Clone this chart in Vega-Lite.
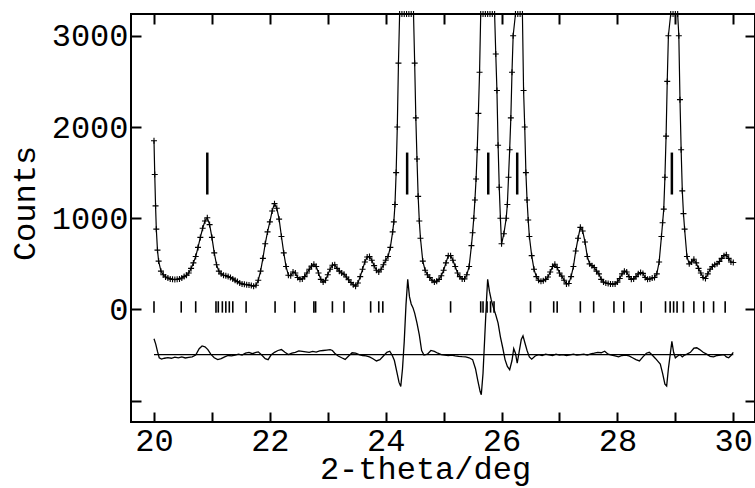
{
  "$schema": "https://vega.github.io/schema/vega-lite/v6.json",
  "autosize": {"type": "none"},
  "width": 624,
  "height": 408,
  "padding": {"left": 131, "top": 14, "right": 0, "bottom": 66},
  "background": "white",
  "view": {"stroke": "black", "strokeWidth": 2},
  "config": {"font": "Liberation Mono"},
  "datasets": {
    "obs": [
      {"t":20.00,"c":1850},{"t":20.013,"c":1480},{"t":20.027,"c":1135},{"t":20.04,"c":880},{"t":20.06,"c":650},{"t":20.08,"c":530},{"t":20.12,"c":420},{"t":20.16,"c":380},{"t":20.20,"c":355},{"t":20.24,"c":345},{"t":20.28,"c":335},{"t":20.32,"c":330},{"t":20.36,"c":328},
      {"t":20.40,"c":330},{"t":20.44,"c":335},{"t":20.48,"c":345},{"t":20.52,"c":360},{"t":20.56,"c":375},{"t":20.60,"c":400},{"t":20.64,"c":450},{"t":20.68,"c":510},{"t":20.72,"c":580},{"t":20.76,"c":680},
      {"t":20.80,"c":790},{"t":20.84,"c":890},{"t":20.88,"c":970},{"t":20.92,"c":1005},{"t":20.96,"c":930},{"t":21.00,"c":790},{"t":21.04,"c":620},{"t":21.08,"c":490},{"t":21.12,"c":420},{"t":21.16,"c":390},
      {"t":21.20,"c":375},{"t":21.24,"c":370},{"t":21.28,"c":360},{"t":21.32,"c":350},{"t":21.36,"c":335},{"t":21.40,"c":320},{"t":21.44,"c":305},{"t":21.48,"c":290},{"t":21.52,"c":280},{"t":21.56,"c":275},
      {"t":21.60,"c":272},{"t":21.64,"c":268},{"t":21.68,"c":262},{"t":21.72,"c":255},{"t":21.76,"c":265},{"t":21.80,"c":320},{"t":21.84,"c":420},{"t":21.88,"c":560},{"t":21.92,"c":720},{"t":21.96,"c":850},
      {"t":22.00,"c":960},{"t":22.04,"c":1080},{"t":22.08,"c":1160},{"t":22.12,"c":1110},{"t":22.16,"c":990},{"t":22.20,"c":800},{"t":22.24,"c":620},{"t":22.28,"c":470},{"t":22.32,"c":375},{"t":22.36,"c":370},
      {"t":22.40,"c":410},{"t":22.44,"c":400},{"t":22.48,"c":350},{"t":22.52,"c":330},{"t":22.56,"c":335},{"t":22.60,"c":360},{"t":22.64,"c":400},{"t":22.68,"c":440},{"t":22.72,"c":475},{"t":22.76,"c":495},
      {"t":22.80,"c":470},{"t":22.84,"c":400},{"t":22.88,"c":330},{"t":22.92,"c":300},{"t":22.96,"c":320},{"t":23.00,"c":380},{"t":23.04,"c":440},{"t":23.08,"c":485},{"t":23.12,"c":490},{"t":23.16,"c":450},
      {"t":23.20,"c":420},{"t":23.24,"c":400},{"t":23.28,"c":385},{"t":23.32,"c":355},{"t":23.36,"c":325},{"t":23.40,"c":295},{"t":23.44,"c":270},{"t":23.48,"c":255},{"t":23.52,"c":290},{"t":23.56,"c":360},
      {"t":23.60,"c":440},{"t":23.64,"c":520},{"t":23.68,"c":575},{"t":23.72,"c":580},{"t":23.76,"c":540},{"t":23.80,"c":480},{"t":23.84,"c":430},{"t":23.88,"c":410},{"t":23.92,"c":440},{"t":23.96,"c":490},
      {"t":24.00,"c":540},{"t":24.04,"c":580},{"t":24.08,"c":680},{"t":24.12,"c":850},{"t":24.14,"c":960},{"t":24.16,"c":1150},{"t":24.18,"c":1500},{"t":24.20,"c":2000},{"t":24.22,"c":2700},{"t":24.24,"c":3500},{"t":24.28,"c":6000},{"t":24.32,"c":9000},{"t":24.36,"c":10000},
      {"t":24.40,"c":8000},{"t":24.44,"c":5500},{"t":24.48,"c":3600},{"t":24.50,"c":2700},{"t":24.52,"c":2100},{"t":24.54,"c":1650},{"t":24.56,"c":1240},{"t":24.58,"c":970},{"t":24.60,"c":780},{"t":24.64,"c":530},{"t":24.68,"c":430},{"t":24.72,"c":380},{"t":24.76,"c":350},
      {"t":24.80,"c":320},{"t":24.84,"c":300},{"t":24.88,"c":310},{"t":24.92,"c":330},{"t":24.96,"c":370},{"t":25.00,"c":430},{"t":25.04,"c":510},{"t":25.08,"c":590},{"t":25.12,"c":590},{"t":25.16,"c":540},
      {"t":25.20,"c":470},{"t":25.24,"c":400},{"t":25.28,"c":360},{"t":25.32,"c":335},{"t":25.36,"c":335},{"t":25.40,"c":380},{"t":25.44,"c":470},{"t":25.48,"c":700},{"t":25.50,"c":840},{"t":25.52,"c":1000},{"t":25.54,"c":1200},{"t":25.56,"c":1430},
      {"t":25.58,"c":1750},{"t":25.60,"c":2150},{"t":25.62,"c":2600},{"t":25.64,"c":3400},{"t":25.68,"c":5000},{"t":25.72,"c":8000},{"t":25.76,"c":10000},{"t":25.80,"c":8000},{"t":25.84,"c":5000},{"t":25.88,"c":3300},{"t":25.90,"c":2800},{"t":25.92,"c":2400},{"t":25.94,"c":1800},{"t":25.96,"c":1340},{"t":25.98,"c":1000},
      {"t":26.00,"c":720},{"t":26.04,"c":830},{"t":26.08,"c":1000},{"t":26.10,"c":1150},{"t":26.12,"c":1450},{"t":26.14,"c":1750},{"t":26.16,"c":2100},{"t":26.18,"c":2600},{"t":26.20,"c":3000},{"t":26.24,"c":5000},{"t":26.28,"c":6500},{"t":26.32,"c":5000},{"t":26.36,"c":3300},
      {"t":26.38,"c":2400},{"t":26.40,"c":2000},{"t":26.42,"c":1500},{"t":26.44,"c":1200},{"t":26.46,"c":980},{"t":26.48,"c":800},{"t":26.52,"c":590},{"t":26.56,"c":440},{"t":26.60,"c":360},{"t":26.64,"c":320},{"t":26.68,"c":308},{"t":26.72,"c":315},{"t":26.76,"c":330},
      {"t":26.80,"c":355},{"t":26.84,"c":410},{"t":26.88,"c":470},{"t":26.92,"c":495},{"t":26.96,"c":460},{"t":27.00,"c":400},{"t":27.04,"c":365},{"t":27.08,"c":320},{"t":27.12,"c":280},{"t":27.16,"c":285},
      {"t":27.20,"c":360},{"t":27.24,"c":470},{"t":27.28,"c":640},{"t":27.32,"c":780},{"t":27.36,"c":900},{"t":27.40,"c":860},{"t":27.44,"c":740},{"t":27.48,"c":580},{"t":27.52,"c":500},{"t":27.56,"c":480},
      {"t":27.60,"c":460},{"t":27.64,"c":420},{"t":27.68,"c":390},{"t":27.72,"c":330},{"t":27.76,"c":300},{"t":27.80,"c":290},{"t":27.84,"c":285},{"t":27.88,"c":280},{"t":27.92,"c":278},{"t":27.96,"c":280},
      {"t":28.00,"c":300},{"t":28.04,"c":340},{"t":28.08,"c":390},{"t":28.12,"c":420},{"t":28.16,"c":410},{"t":28.20,"c":360},{"t":28.24,"c":330},{"t":28.28,"c":335},{"t":28.32,"c":360},{"t":28.36,"c":390},
      {"t":28.40,"c":405},{"t":28.44,"c":395},{"t":28.48,"c":350},{"t":28.52,"c":330},{"t":28.56,"c":335},{"t":28.60,"c":345},{"t":28.64,"c":350},{"t":28.68,"c":390},{"t":28.72,"c":520},{"t":28.76,"c":800},{"t":28.78,"c":950},
      {"t":28.80,"c":1100},{"t":28.82,"c":1450},{"t":28.84,"c":1900},{"t":28.86,"c":2500},{"t":28.88,"c":3000},{"t":28.92,"c":6000},{"t":28.96,"c":8000},{"t":29.00,"c":6500},{"t":29.04,"c":3800},{"t":29.06,"c":3000},{"t":29.08,"c":2300},{"t":29.10,"c":1750},{"t":29.12,"c":1300},{"t":29.14,"c":1050},{"t":29.16,"c":880},
      {"t":29.20,"c":580},{"t":29.24,"c":500},{"t":29.28,"c":520},{"t":29.32,"c":550},{"t":29.36,"c":510},{"t":29.40,"c":450},{"t":29.44,"c":400},{"t":29.48,"c":350},{"t":29.52,"c":340},{"t":29.56,"c":390},
      {"t":29.60,"c":440},{"t":29.64,"c":470},{"t":29.68,"c":490},{"t":29.72,"c":500},{"t":29.76,"c":525},{"t":29.80,"c":560},{"t":29.84,"c":590},{"t":29.88,"c":600},{"t":29.92,"c":560},{"t":29.96,"c":520},
      {"t":30.00,"c":515}
    ],
    "diff": [
      {"t":20.00,"d":-322},{"t":20.03,"d":-380},{"t":20.06,"d":-460},{"t":20.09,"d":-530},{"t":20.13,"d":-545},{"t":20.18,"d":-535},{"t":20.24,"d":-528},{"t":20.30,"d":-535},{"t":20.36,"d":-522},{"t":20.42,"d":-530},
      {"t":20.48,"d":-520},{"t":20.54,"d":-532},{"t":20.60,"d":-525},{"t":20.66,"d":-520},{"t":20.72,"d":-500},{"t":20.78,"d":-430},{"t":20.83,"d":-400},{"t":20.88,"d":-410},{"t":20.93,"d":-440},{"t":20.98,"d":-490},
      {"t":21.04,"d":-530},{"t":21.10,"d":-550},{"t":21.16,"d":-540},{"t":21.22,"d":-520},{"t":21.28,"d":-505},{"t":21.34,"d":-510},{"t":21.40,"d":-500},{"t":21.46,"d":-490},{"t":21.52,"d":-500},{"t":21.58,"d":-480},
      {"t":21.64,"d":-470},{"t":21.70,"d":-485},{"t":21.76,"d":-470},{"t":21.80,"d":-465},{"t":21.86,"d":-500},{"t":21.92,"d":-540},{"t":21.97,"d":-550},{"t":22.02,"d":-500},{"t":22.08,"d":-470},{"t":22.14,"d":-450},
      {"t":22.20,"d":-440},{"t":22.26,"d":-470},{"t":22.32,"d":-495},{"t":22.38,"d":-480},{"t":22.44,"d":-470},{"t":22.50,"d":-455},{"t":22.56,"d":-460},{"t":22.62,"d":-465},{"t":22.68,"d":-470},{"t":22.74,"d":-460},
      {"t":22.80,"d":-468},{"t":22.86,"d":-455},{"t":22.92,"d":-450},{"t":22.98,"d":-445},{"t":23.04,"d":-440},{"t":23.08,"d":-450},{"t":23.12,"d":-480},{"t":23.18,"d":-510},{"t":23.24,"d":-530},{"t":23.30,"d":-548},
      {"t":23.36,"d":-510},{"t":23.42,"d":-475},{"t":23.48,"d":-480},{"t":23.54,"d":-495},{"t":23.60,"d":-505},{"t":23.66,"d":-508},{"t":23.72,"d":-520},{"t":23.78,"d":-540},{"t":23.84,"d":-565},{"t":23.90,"d":-550},
      {"t":23.96,"d":-510},{"t":24.02,"d":-470},{"t":24.07,"d":-458},{"t":24.11,"d":-500},{"t":24.15,"d":-560},{"t":24.19,"d":-680},{"t":24.23,"d":-800},{"t":24.26,"d":-845},{"t":24.29,"d":-650},{"t":24.32,"d":-350},
      {"t":24.35,"d":50},{"t":24.38,"d":330},{"t":24.41,"d":140},{"t":24.44,"d":60},{"t":24.47,"d":20},{"t":24.50,"d":-40},{"t":24.54,"d":-150},{"t":24.58,"d":-280},{"t":24.62,"d":-450},{"t":24.66,"d":-500},
      {"t":24.72,"d":-490},{"t":24.78,"d":-450},{"t":24.84,"d":-460},{"t":24.90,"d":-480},{"t":24.96,"d":-495},{"t":25.02,"d":-500},{"t":25.08,"d":-505},{"t":25.14,"d":-500},{"t":25.20,"d":-510},{"t":25.26,"d":-515},
      {"t":25.32,"d":-518},{"t":25.38,"d":-520},{"t":25.44,"d":-530},{"t":25.50,"d":-550},{"t":25.55,"d":-650},{"t":25.59,"d":-780},{"t":25.63,"d":-900},{"t":25.65,"d":-935},{"t":25.68,"d":-700},{"t":25.71,"d":-300},
      {"t":25.74,"d":100},{"t":25.76,"d":330},{"t":25.79,"d":200},{"t":25.82,"d":110},{"t":25.86,"d":20},{"t":25.90,"d":-60},{"t":25.94,"d":-150},{"t":25.98,"d":-300},{"t":26.02,"d":-420},{"t":26.06,"d":-550},
      {"t":26.10,"d":-625},{"t":26.14,"d":-660},{"t":26.18,"d":-560},{"t":26.21,"d":-430},{"t":26.24,"d":-480},{"t":26.27,"d":-590},{"t":26.30,"d":-480},{"t":26.34,"d":-330},{"t":26.37,"d":-290},{"t":26.40,"d":-360},
      {"t":26.44,"d":-450},{"t":26.48,"d":-520},{"t":26.52,"d":-545},{"t":26.58,"d":-510},{"t":26.64,"d":-495},{"t":26.70,"d":-505},{"t":26.76,"d":-490},{"t":26.82,"d":-497},{"t":26.88,"d":-505},{"t":26.94,"d":-490},
      {"t":27.00,"d":-500},{"t":27.06,"d":-495},{"t":27.12,"d":-505},{"t":27.18,"d":-498},{"t":27.24,"d":-490},{"t":27.30,"d":-500},{"t":27.36,"d":-495},{"t":27.42,"d":-490},{"t":27.48,"d":-500},{"t":27.54,"d":-488},
      {"t":27.60,"d":-480},{"t":27.66,"d":-470},{"t":27.72,"d":-475},{"t":27.78,"d":-458},{"t":27.84,"d":-490},{"t":27.90,"d":-500},{"t":27.96,"d":-510},{"t":28.02,"d":-520},{"t":28.08,"d":-505},{"t":28.14,"d":-500},
      {"t":28.20,"d":-510},{"t":28.26,"d":-530},{"t":28.32,"d":-550},{"t":28.38,"d":-565},{"t":28.44,"d":-520},{"t":28.50,"d":-480},{"t":28.55,"d":-470},{"t":28.60,"d":-500},{"t":28.66,"d":-540},{"t":28.70,"d":-570},
      {"t":28.74,"d":-600},{"t":28.78,"d":-700},{"t":28.82,"d":-820},{"t":28.85,"d":-840},{"t":28.88,"d":-650},{"t":28.91,"d":-500},{"t":28.94,"d":-350},{"t":28.97,"d":-470},{"t":29.00,"d":-530},{"t":29.04,"d":-510},
      {"t":29.08,"d":-495},{"t":29.12,"d":-520},{"t":29.16,"d":-500},{"t":29.20,"d":-490},{"t":29.26,"d":-470},{"t":29.32,"d":-425},{"t":29.37,"d":-420},{"t":29.42,"d":-440},{"t":29.48,"d":-470},{"t":29.54,"d":-490},
      {"t":29.60,"d":-515},{"t":29.66,"d":-520},{"t":29.72,"d":-505},{"t":29.78,"d":-500},{"t":29.84,"d":-495},{"t":29.88,"d":-520},{"t":29.92,"d":-530},{"t":29.96,"d":-505},{"t":30.00,"d":-470}
    ],
    "refl": [
      {"t":20.00},{"t":20.47},{"t":20.72},{"t":21.07},{"t":21.11},{"t":21.18},{"t":21.24},{"t":21.30},{"t":21.36},{"t":21.59},
      {"t":22.09},{"t":22.43},{"t":22.76},{"t":22.79},{"t":23.08},{"t":23.28},{"t":23.74},{"t":23.88},{"t":23.95},{"t":25.12},
      {"t":25.64},{"t":25.68},{"t":25.75},{"t":25.81},{"t":25.87},{"t":26.50},{"t":26.90},{"t":26.96},{"t":27.36},{"t":27.59},
      {"t":27.94},{"t":28.11},{"t":28.41},{"t":28.83},{"t":28.91},{"t":28.97},{"t":29.03},{"t":29.14},{"t":29.32},{"t":29.49},
      {"t":29.66},{"t":29.86}
    ],
    "imp": [{"t":20.92},{"t":24.37},{"t":25.77},{"t":26.27},{"t":28.94}],
    "base": [{"lo":20,"hi":30,"level":-495}]
  },
  "layer": [
    {
      "data": {"name": "obs"},
      "mark": {"type": "line", "color": "black", "strokeWidth": 1.2},
      "encoding": {
        "x": {"field": "t", "type": "quantitative",
              "scale": {"domain": [19.603, 30.375], "nice": false, "zero": false},
              "axis": {"orient": "bottom", "values": [20,21,22,23,24,25,26,27,28,29,30],
                       "labelExpr": "datum.value % 2 === 0 ? datum.label : ''",
                       "domain": false, "grid": false, "tickSize": -10, "tickWidth": 2, "tickColor": "black",
                       "labelFont": "Liberation Mono", "labelFontSize": 32, "labelColor": "black", "labelPadding": 13,
                       "labelFlush": false, "labelOverlap": false,
                       "title": "2-theta/deg", "titleFont": "Liberation Mono", "titleFontSize": 32, "titleFontWeight": "normal",
                       "titleColor": "black", "titleX": 294, "titleY": 56, "titleAlign": "center", "titleBaseline": "alphabetic"}},
        "y": {"field": "c", "type": "quantitative",
              "scale": {"domain": [-1234, 3239], "nice": false, "zero": false, "clamp": true},
              "axis": {"orient": "left", "values": [-1000,0,1000,2000,3000], "format": "d",
                       "labelExpr": "datum.value < 0 ? '' : datum.label",
                       "domain": false, "grid": false, "tickSize": -10, "tickWidth": 2, "tickColor": "black",
                       "labelFont": "Liberation Mono", "labelFontSize": 32, "labelColor": "black", "labelPadding": 13,
                       "labelFlush": false, "labelOverlap": false,
                       "title": "Counts", "titleFont": "Liberation Mono", "titleFontSize": 32, "titleFontWeight": "normal",
                       "titleColor": "black", "titleAngle": -90, "titleX": -97, "titleY": 189, "titleAlign": "center", "titleBaseline": "alphabetic"}}
      }
    },
    {
      "data": {"name": "obs"},
      "mark": {"type": "point", "shape": "M-1,0H1M0,-1V1", "filled": false, "stroke": "black", "strokeWidth": 1.1, "size": 36, "opacity": 1},
      "encoding": {
        "x": {"field": "t", "type": "quantitative", "scale": {"domain": [19.603, 30.375], "nice": false, "zero": false}, "axis": null},
        "y": {"field": "c", "type": "quantitative", "scale": {"domain": [-1234, 3239], "nice": false, "zero": false, "clamp": true}, "axis": null}
      }
    },
    {
      "data": {"name": "refl"},
      "mark": {"type": "rule", "color": "black", "strokeWidth": 1.6},
      "encoding": {
        "x": {"field": "t", "type": "quantitative", "scale": {"domain": [19.603, 30.375], "nice": false, "zero": false}, "axis": null},
        "y": {"datum": -35, "type": "quantitative", "scale": {"domain": [-1234, 3239], "nice": false, "zero": false, "clamp": true}, "axis": null},
        "y2": {"datum": 90}
      }
    },
    {
      "data": {"name": "imp"},
      "mark": {"type": "rule", "color": "black", "strokeWidth": 2.5},
      "encoding": {
        "x": {"field": "t", "type": "quantitative", "scale": {"domain": [19.603, 30.375], "nice": false, "zero": false}, "axis": null},
        "y": {"datum": 1260, "type": "quantitative", "scale": {"domain": [-1234, 3239], "nice": false, "zero": false, "clamp": true}, "axis": null},
        "y2": {"datum": 1720}
      }
    },
    {
      "data": {"name": "diff"},
      "mark": {"type": "line", "color": "black", "strokeWidth": 1.3},
      "encoding": {
        "x": {"field": "t", "type": "quantitative", "scale": {"domain": [19.603, 30.375], "nice": false, "zero": false}, "axis": null},
        "y": {"field": "d", "type": "quantitative", "scale": {"domain": [-1234, 3239], "nice": false, "zero": false, "clamp": true}, "axis": null}
      }
    },
    {
      "data": {"name": "base"},
      "mark": {"type": "rule", "color": "black", "strokeWidth": 1.2},
      "encoding": {
        "x": {"field": "lo", "type": "quantitative", "scale": {"domain": [19.603, 30.375], "nice": false, "zero": false},
              "axis": {"orient": "top", "values": [20,21,22,23,24,25,26,27,28,29,30], "labels": false, "domain": false, "grid": false,
                       "tickSize": -10, "tickWidth": 2, "tickColor": "black", "title": null}},
        "x2": {"field": "hi"},
        "y": {"field": "level", "type": "quantitative", "scale": {"domain": [-1234, 3239], "nice": false, "zero": false, "clamp": true},
              "axis": {"orient": "right", "values": [-1000,0,1000,2000,3000], "labels": false, "domain": false, "grid": false,
                       "tickSize": -10, "tickWidth": 2, "tickColor": "black", "title": null}}
      }
    }
  ],
  "resolve": {"axis": {"x": "independent", "y": "independent"}}
}
